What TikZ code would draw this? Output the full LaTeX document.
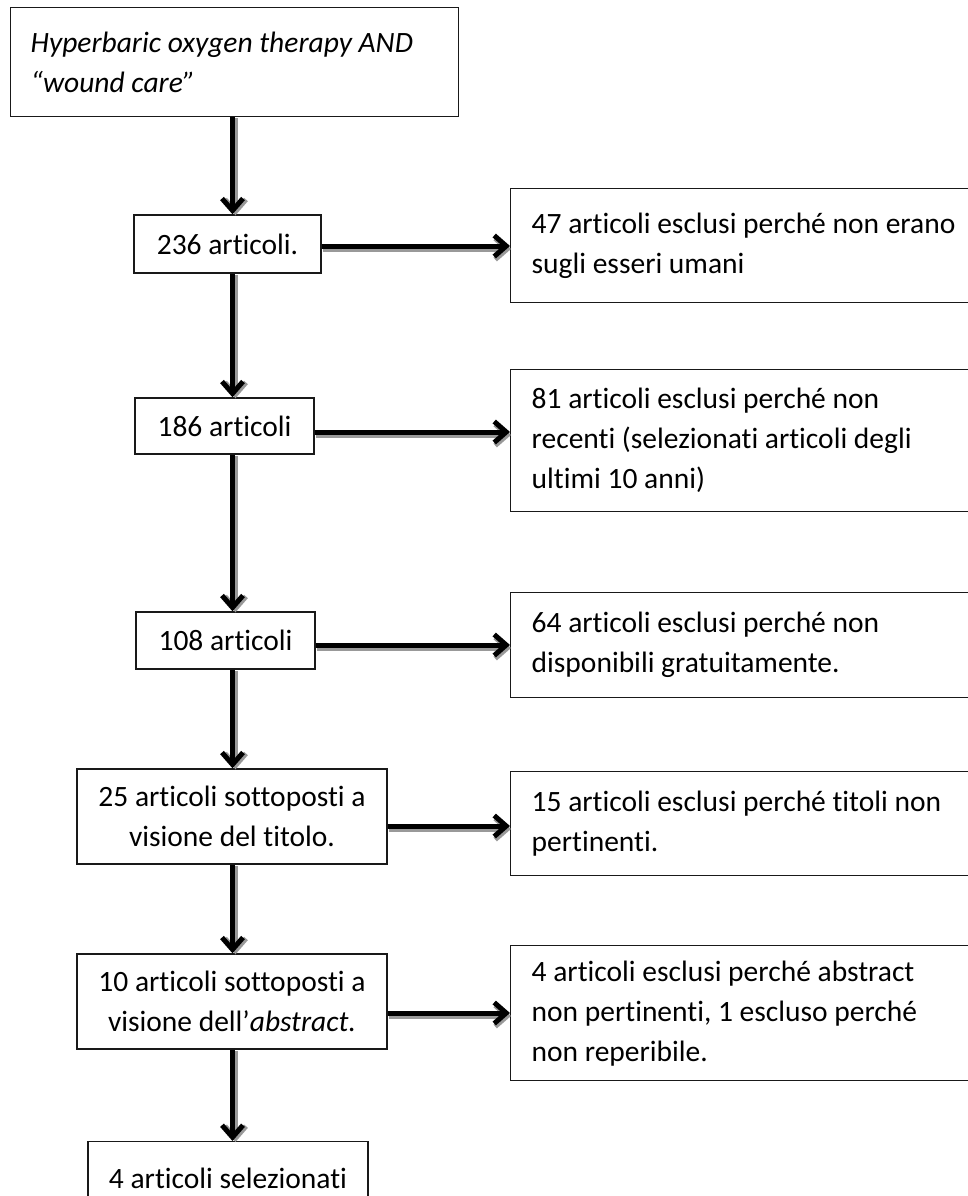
\documentclass[tikz,border=0pt]{standalone}
\usepackage{fontspec}
\setmainfont[Ligatures={NoCommon,NoContextual}]{Carlito}
\usetikzlibrary{arrows.meta,calc}
\begin{document}
\begin{tikzpicture}[x=1pt,y=-1pt,
  box/.style={draw=black!90, line width=1.4pt, inner sep=0pt, fill=white,
    font=\fontsize{29.5}{40}\selectfont},
  midbox/.style={box, align=center},
  sidebox/.style={box, anchor=north west, inner xsep=21pt, text width=448pt, align=flush left},
  flow/.style={line width=5pt, draw=black, -{Straight Barb[length=12pt,width=21pt]}},
  flowshadow/.style={line width=5pt, draw=black!40, -{Straight Barb[length=12pt,width=21pt]}}
]
\useasboundingbox (0,0) rectangle (968,1196);
\clip (0,0) rectangle (968,1196);

% top box
\node[box, anchor=north west, inner xsep=20pt, text width=408pt, align=flush left,
      minimum height=109pt] (top) at (10,7)
  {\itshape Hyperbaric oxygen therapy AND\\“wound care”};

% left column
\node[midbox, minimum width=187pt, minimum height=58pt] (a) at (227.5,244) {236 articoli.};
\node[midbox, minimum width=179pt, minimum height=56pt] (b) at (224.5,426) {186 articoli};
\node[midbox, minimum width=179pt, minimum height=57pt] (c) at (225.5,640.5) {108 articoli};
\node[midbox, minimum width=310pt, minimum height=95pt] (d) at (232,816.5) {25 articoli sottoposti a\\visione del titolo.};
\node[midbox, minimum width=310pt, minimum height=95pt] (e) at (232,1001.5) {10 articoli sottoposti a\\visione dell’\textit{abstract.}};
\node[box, anchor=north, minimum width=280pt, minimum height=70pt] (f) at (228,1141) {};
\node[font=\fontsize{29.5}{40}\selectfont, anchor=base, inner sep=0pt] (ft) at (228,1188) {4 articoli selezionati};

% right column
\node[sidebox, minimum height=114pt] (r1) at (510,188) {47 articoli esclusi perché non erano\\sugli esseri umani};
\node[sidebox, minimum height=142pt] (r2) at (510,369) {81 articoli esclusi perché non\\recenti (selezionati articoli degli\\ultimi 10 anni)};
\node[sidebox, minimum height=105pt] (r3) at (510,592) {64 articoli esclusi perché non\\disponibili gratuitamente.};
\node[sidebox, minimum height=104pt] (r4) at (510,771) {15 articoli esclusi perché titoli non\\pertinenti.};
\node[sidebox, minimum height=135pt] (r5) at (510,945) {4 articoli esclusi perché abstract\\non pertinenti, 1 escluso perché\\non reperibile.};

% reference coordinates
\coordinate (col) at (232.5,0);
\coordinate (h1) at (0,246);
\coordinate (h2) at (0,432);
\coordinate (h3) at (0,645);
\coordinate (h4) at (0,826);
\coordinate (h5) at (0,1013);

% vertical arrows
\foreach \u/\v in {top/a, a/b, b/c, c/d, d/e, e/f}{
  \draw[flowshadow] ($(\u.south -| col)+(3,1)$) -- ($(\v.north -| col)+(3,1)$);
  \draw[flow] (\u.south -| col) -- (\v.north -| col);
}
% horizontal arrows
\foreach \u/\v/\h in {a/r1/h1, b/r2/h2, c/r3/h3, d/r4/h4, e/r5/h5}{
  \draw[flowshadow] ($(\u.east |- \h)+(1,3)$) -- ($(\v.west |- \h)+(1,3)$);
  \draw[flow] (\u.east |- \h) -- (\v.west |- \h);
}
\end{tikzpicture}
\end{document}
